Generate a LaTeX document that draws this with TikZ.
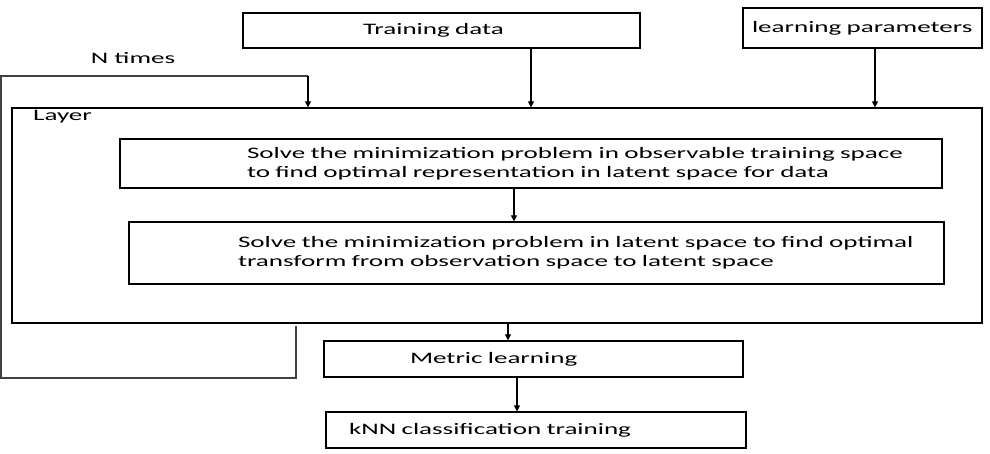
\documentclass[tikz,border=0pt]{standalone}
\usepackage{fontspec}
\setmainfont{Carlito}[FakeStretch=1.69]
\usetikzlibrary{arrows.meta}
\tikzset{
  box/.style={draw, line width=1.3pt, inner sep=0pt, align=left, font=\fontsize{16}{19}\selectfont},
  lbl/.style={inner sep=0pt, font=\fontsize{16}{19}\selectfont},
  arr/.style={line width=1.3pt, -{Triangle[length=6pt,width=6pt]}},
  loopline/.style={line width=1.2pt, draw=black!75}
}
\begin{document}
\begin{tikzpicture}[x=1pt,y=-1pt]
\useasboundingbox (0,0) rectangle (990,454);
% boxes
\node[box, minimum height=35pt, text width=397pt] (train) at (441.5,30.5) {\hspace*{120pt}Training data};
\node[box, minimum height=40pt, text width=239pt] (lp) at (862.5,28) {\hspace*{9pt}learning parameters};
\node[box, minimum height=215pt, text width=970pt] (layer) at (497,215.5) {};
\node[lbl, anchor=west] (layerlbl) at (33,117) {Layer};
\node[box, minimum height=49pt, text width=822pt] (b1) at (531,163.5) {\hspace*{127pt}Solve the minimization problem in observable training space\\\hspace*{127pt}to find optimal representation in latent space for data};
\node[box, minimum height=62pt, text width=815pt] (b2) at (536.5,253) {\hspace*{109pt}Solve the minimization problem in latent space to find optimal\\\hspace*{109pt}transform from observation space to latent space};
\node[box, minimum height=36pt, text width=419pt] (metric) at (533.5,359) {\hspace*{86pt}Metric learning};
\node[box, minimum height=36pt, text width=420pt] (knn) at (536,430) {\hspace*{23pt}kNN classification training};
\node[lbl] (ntimes) at (133,58) {N times};
% arrow x positions
\coordinate (xa) at (531,0);
\coordinate (xb) at (875,0);
\coordinate (xc) at (514,0);
\coordinate (xd) at (508,0);
\coordinate (xe) at (517,0);
\draw[arr] (train.south -| xa) -- (layer.north -| xa);
\draw[arr] (lp.south -| xb) -- (layer.north -| xb);
\draw[arr] (b1.south -| xc) -- (b2.north -| xc);
\draw[arr] (layer.south -| xd) -- (metric.north -| xd);
\draw[arr] (metric.south -| xe) -- (knn.north -| xe);
% loop
\coordinate (la) at (296,326);
\coordinate (lb) at (296,378);
\coordinate (lc) at (1,378);
\coordinate (ld) at (1,76);
\coordinate (le) at (308,76);
\draw[loopline] (la) -- (lb) -- (lc) -- (ld) -- (le);
\draw[arr] (le) -- (layer.north -| le);
\end{tikzpicture}
\end{document}
